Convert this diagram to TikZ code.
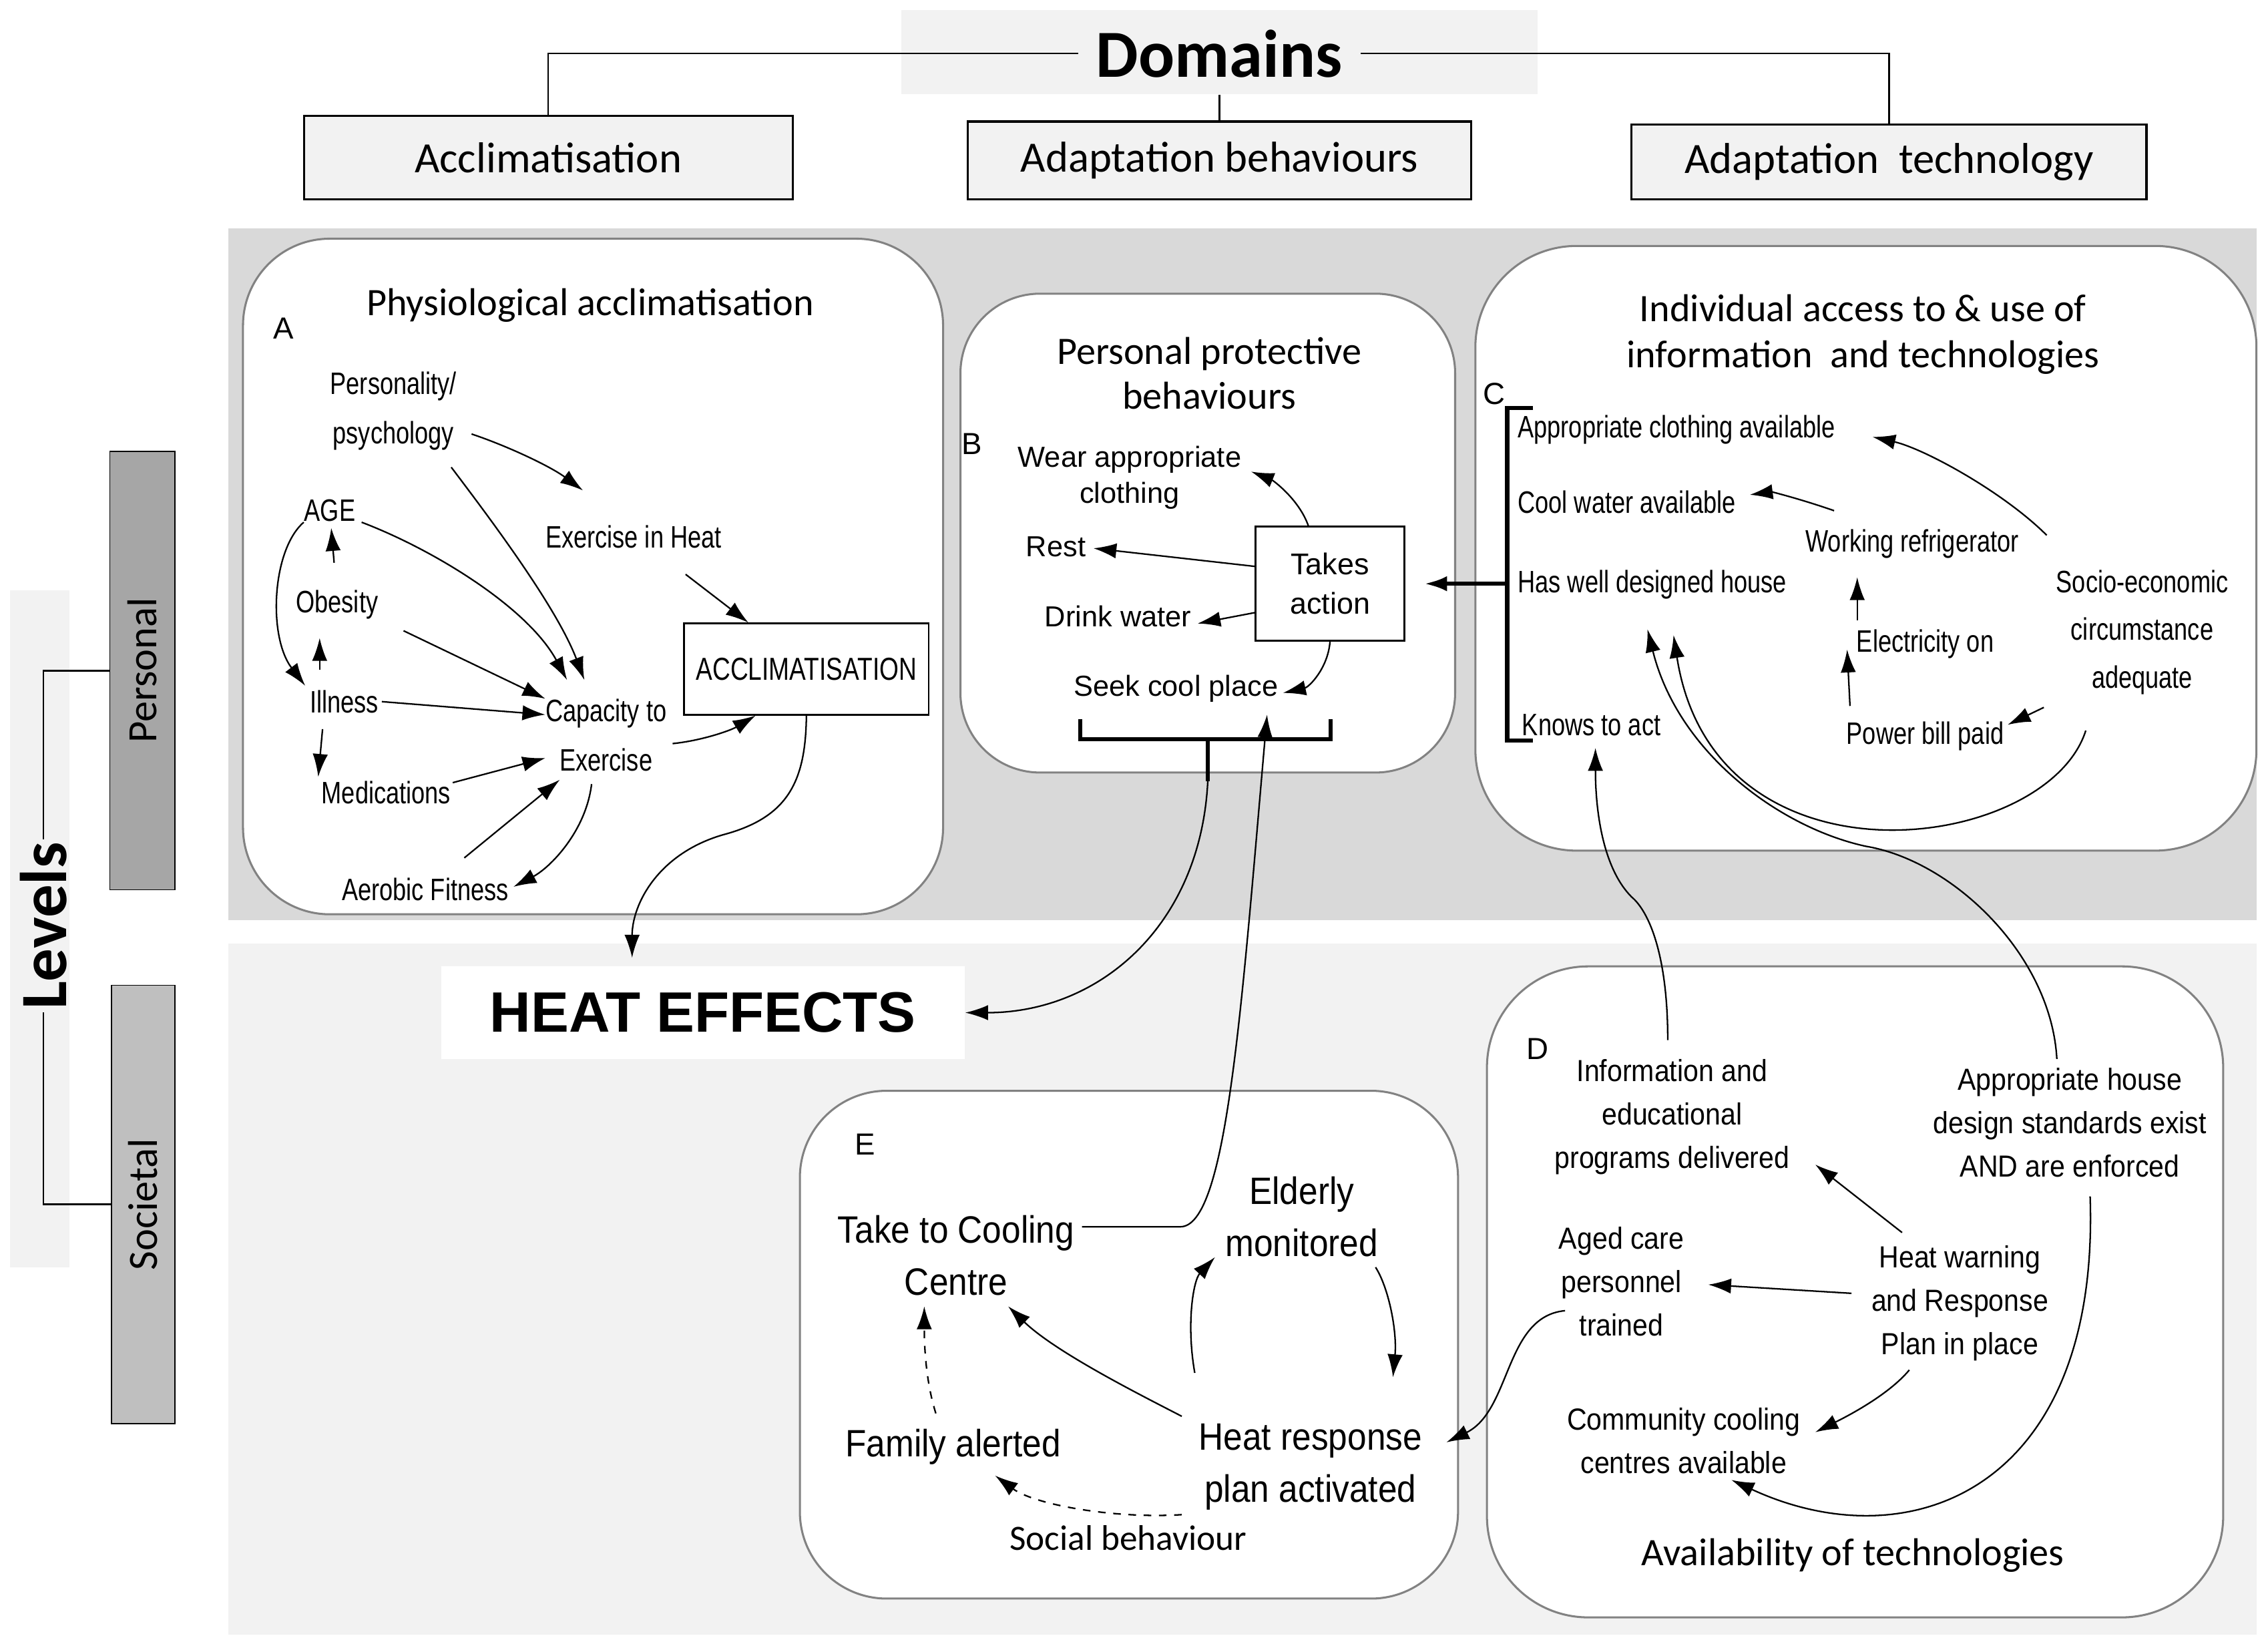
\documentclass[tikz,border=0pt]{standalone}
\usepackage{fontspec}
\setmainfont{Carlito}
\newfontfamily\arialfont{Liberation Sans}
\newfontfamily\narrowfont[FakeStretch=0.78]{Liberation Sans}
\newfontfamily\semifont[FakeStretch=0.9]{Liberation Sans}
\usetikzlibrary{arrows.meta}
\definecolor{bandgray}{RGB}{217,217,217}
\definecolor{paleg}{RGB}{242,242,242}
\definecolor{persgray}{RGB}{166,166,166}
\definecolor{socgray}{RGB}{191,191,191}
\definecolor{edgegray}{RGB}{130,130,130}

\begin{document}
\begin{tikzpicture}[x=0.02cm, y=-0.02cm,
  line/.style={>={Latex[length=9pt,width=6pt]}, line width=0.6pt},
  hdr/.style={draw, fill=paleg, line width=0.8pt, font=\fontsize{17}{20}\selectfont},
  area/.style={draw=edgegray, fill=white, line width=0.8pt},
  ttl/.style={align=center, font=\fontsize{15.3}{17.5}\selectfont},
  tag/.style={font=\arialfont\fontsize{12}{14}\selectfont},
  nar/.style={align=center, inner sep=2pt, font=\narrowfont\fontsize{12.2}{19.5}\selectfont},
  blab/.style={align=center, inner sep=2pt, font=\arialfont\fontsize{11.4}{14.2}\selectfont},
  dlab/.style={align=center, inner sep=2pt, font=\semifont\fontsize{12}{17.1}\selectfont},
  elab/.style={align=center, inner sep=2pt, font=\semifont\fontsize{15}{20.5}\selectfont}]
\useasboundingbox (0,0) rectangle (1568,1136);
\fill[white] (0,0) rectangle (1568,1136);

\node (dombg) at (843,36) [fill=paleg, minimum width=8.8cm, minimum height=1.16cm] {};
\node (dom) at (843,37) [inner xsep=7pt, inner ysep=0pt, font=\bfseries\fontsize{26.5}{30}\selectfont] {Domains};
\node (acc) at (379,109) [hdr, minimum width=6.76cm, minimum height=1.16cm] {Acclimatisation};
\node (beh) at (843,111) [hdr, minimum width=6.96cm, minimum height=1.08cm] {Adaptation behaviours};
\node (tec) at (1306,112) [hdr, minimum width=7.12cm, minimum height=1.04cm] {Adaptation\ \ technology};
\draw[line width=0.7pt] (dom.west) -| (acc.north);
\draw[line width=0.7pt] (dom.east) -| (tec.north);
\draw[line width=0.7pt] (dombg.south) -- (beh.north);

\fill[bandgray] (158,158) rectangle (1560,636);
\fill[paleg] (158,652) rectangle (1560,1130);
\fill[paleg] (7,408) rectangle (48,876);

\node (lev) at (30,640) [rotate=90, inner sep=1pt, font=\bfseries\fontsize{26}{30}\selectfont] {Levels};
\node (pers) at (98.5,463.5) [rotate=90, draw, fill=persgray, minimum width=6.06cm, minimum height=0.9cm, font=\fontsize{16.4}{20}\selectfont] {Personal};
\node (socl) at (99,832.5) [rotate=90, draw, fill=socgray, minimum width=6.06cm, minimum height=0.88cm, font=\fontsize{16.4}{20}\selectfont] {Societal};
\draw[line width=0.7pt] (lev.east) |- (pers.north);
\draw[line width=0.7pt] (lev.west) |- (socl.north);

\draw[area, rounded corners=1.2cm] (168,165) rectangle (652,632);
\draw[area, rounded corners=1.1cm] (664,203) rectangle (1006,534);
\draw[area, rounded corners=1.4cm] (1020,170) rectangle (1560,588);
\draw[area, rounded corners=1.4cm] (1028,668) rectangle (1537,1118);
\draw[area, rounded corners=1.2cm] (553,754) rectangle (1008,1105);

\node (heat) at (486,700) [fill=white, minimum width=7.24cm, minimum height=1.28cm, font=\arialfont\bfseries\fontsize{22.4}{26}\selectfont] {HEAT EFFECTS};

% A
\node (tagA) at (196,227) [tag] {A};
\node (titA) at (408,211) [ttl] {Physiological acclimatisation};
\node (psy) at (272,284) [nar] {Personality/\\psychology};
\node (age) at (228,353) [nar] {AGE};
\node (obe) at (233,418) [nar] {Obesity};
\node (ill) at (238,485) [nar] {Illness};
\node (med) at (267,548) [nar] {Medications};
\node (aer) at (294,615) [nar] {Aerobic Fitness};
\node (exh) at (438,371) [nar] {Exercise in Heat};
\node (cap) at (419,508) [nar] {Capacity to\\Exercise};
\node (accl) at (557.5,462.5) [draw, line width=0.7pt, minimum width=3.38cm, minimum height=1.26cm, font=\narrowfont\fontsize{12.5}{15}\selectfont] {ACCLIMATISATION};

\draw[->, line] ([shift={(54,16)}]psy.center) .. controls (350,308) and (380,322) .. ([shift={(-35,-32)}]exh.center);
\draw[->, line] ([shift={(40,39)}]psy.center) .. controls (340,360) and (385,420) .. ([shift={(-15,-38)}]cap.center);
\draw[->, line] ([shift={(22,8)}]age.center) .. controls (300,380) and (365,420) .. ([shift={(-27,-38)}]cap.center);
\draw[->, line] ([shift={(46,18)}]obe.center) -- ([shift={(-42,-25)}]cap.center);
\draw[->, line] ([shift={(26,0)}]ill.center) -- ([shift={(-42,-14)}]cap.center);
\draw[->, line] ([shift={(46,-7)}]med.center) -- ([shift={(-42,16)}]cap.center);
\draw[->, line] ([shift={(27,-22)}]aer.center) -- ([shift={(-32,31)}]cap.center);
\draw[->, line] ([shift={(-10,34)}]cap.center) .. controls (405,575) and (380,600) .. ([shift={(61,-2)}]aer.center);
\draw[->, line] ([shift={(46,6)}]cap.center) .. controls (485,512) and (505,505) .. ([shift={(50,0)}]accl.south west);
\draw[->, line] ([shift={(36,26)}]exh.center) -- ([shift={(45,0)}]accl.north west);
\draw[->, line] ([shift={(-2,-29)}]obe.center) -- ([shift={(1,12)}]age.center);
\draw[->, line] ([shift={(-17,-22)}]ill.center) -- ([shift={(-12,23)}]obe.center);
\draw[->, line] ([shift={(-15,19)}]ill.center) -- ([shift={(-47,-11)}]med.center);
\draw[->, line] ([shift={(-18,8)}]age.center) .. controls (188,380) and (185,440) .. ([shift={(-27,-11)}]ill.center);
\draw[->, line] (accl.south) .. controls (557,540) and (545,565) .. (500,577) .. controls (455,590) and (437,625) .. ([shift={(-49,-38)}]heat.center);

% B
\node (tagB) at (672,307) [tag] {B};
\node (titB) at (836,258) [ttl] {Personal protective\\behaviours};
\node (wear) at (781,330) [blab] {Wear appropriate\\clothing};
\node (rest) at (730,378) [blab] {Rest};
\node (drink) at (773,426) [blab] {Drink water};
\node (seek) at (813,476) [blab] {Seek cool place};
\node (take) at (919.5,403.5) [draw, line width=0.7pt, minimum width=2.06cm, minimum height=1.58cm, align=center, font=\arialfont\fontsize{11.8}{15.4}\selectfont] {Takes\\action};

\draw[->, line] ([shift={(-15,0)}]take.north) .. controls (898,345) and (880,332) .. ([shift={(84,-4)}]wear.center);
\draw[->, line] ([shift={(0,-12)}]take.west) -- ([shift={(26,1)}]rest.center);
\draw[->, line] ([shift={(0,20)}]take.west) -- ([shift={(55,5)}]drink.center);
\draw[->, line] (take.south) .. controls (918,462) and (905,475) .. ([shift={(74,3)}]seek.center);

\draw[line width=1.6pt] (747,497) |- (920,511) -- (920,497);
\coordinate (brB) at (835,511);
\coordinate (stemB) at (835,540);
\draw[line width=1.6pt] (brB) -- (stemB);
\draw[->, line] (stemB) .. controls (830,640) and (760,700) .. (heat.east);

% C
\node (tagC) at (1033,272) [tag] {C};
\node (titC) at (1288,231) [ttl, font=\fontsize{15.3}{18.2}\selectfont] {Individual access to \& use of\\information\ \ and technologies};
\node (clo) at (1045.5,297) [nar, anchor=west] {Appropriate clothing available};
\node (wat) at (1045.5,347) [nar, anchor=west] {Cool water available};
\node (hou) at (1045.5,404) [nar, anchor=west] {Has well designed house};
\node (kno) at (1048.5,501) [nar, anchor=west] {Knows to act};
\node (fri) at (1322,376) [nar] {Working refrigerator};
\node (ele) at (1331,445) [nar] {Electricity on};
\node (pow) at (1331,509) [nar] {Power bill paid};
\node (soc) at (1481,437) [nar, font=\narrowfont\fontsize{12.2}{18.8}\selectfont] {Socio-economic\\circumstance\\adequate};

\draw[line width=1.6pt] (1060,282) -| (1042,512) -- (1060,512);
\coordinate (brC) at (1042,403.5);
\draw[->, line, line width=1.6pt] (brC) -- ([shift={(13,0)}]take.east);

\draw[->, line] ([shift={(-66,-67)}]soc.center) .. controls (1385,340) and (1330,310) .. ([shift={(22,5)}]clo.east);
\draw[->, line] ([shift={(-54,-23)}]fri.center) .. controls (1245,345) and (1225,340) .. ([shift={(6,-5)}]wat.east);
\draw[->, line] ([shift={(-47,-16)}]ele.center) -- ([shift={(-38,23)}]fri.center);
\draw[->, line] ([shift={(-52,-21)}]pow.center) -- ([shift={(-54,4)}]ele.center);
\draw[->, line] ([shift={(-68,52)}]soc.center) -- ([shift={(57,-8)}]pow.center);
\draw[->, line] ([shift={(-39,68)}]soc.center) .. controls (1415,590) and (1185,620) .. ([shift={(111.5,35)}]hou.west);

% D
\node (tagD) at (1063,725) [tag] {D};
\node (info) at (1156,772) [dlab] {Information and\\educational\\programs delivered};
\node (stds) at (1431,776) [dlab] {Appropriate house\\design standards exist\\AND are enforced};
\node (aged) at (1121,886) [dlab] {Aged care\\personnel\\trained};
\node (hwr) at (1355,901) [dlab] {Heat warning\\and Response\\Plan in place};
\node (comm) at (1164,996) [dlab] {Community cooling\\centres available};
\node (titD) at (1281,1075) [ttl] {Availability of technologies};

\draw[->, line] ([shift={(-9,-44)}]stds.center) .. controls (1418,660) and (1350,595) .. (1290,585) .. controls (1230,572) and (1160,520) .. ([shift={(93.5,31)}]hou.west);
\draw[->, line] ([shift={(-3,-53)}]info.center) .. controls (1153,660) and (1140,630) .. (1128,620) .. controls (1108,600) and (1103,560) .. ([shift={(54.5,16)}]kno.west);
\draw[->, line] ([shift={(-40,-49)}]hwr.center) -- ([shift={(99,33)}]info.center);
\draw[->, line] ([shift={(-75,-7)}]hwr.center) -- ([shift={(60,2)}]aged.center);
\draw[->, line] ([shift={(-35,46)}]hwr.center) .. controls (1305,965) and (1275,980) .. ([shift={(91,-6)}]comm.center);
\draw[->, line] ([shift={(14,51)}]stds.center) .. controls (1452,1030) and (1320,1080) .. ([shift={(33,27)}]comm.center);

% E
\node (tagE) at (598,791) [tag] {E};
\node (cool) at (661,868) [elab] {Take to Cooling\\Centre};
\node (eld) at (900,841) [elab] {Elderly\\monitored};
\node (fam) at (659,1000) [elab] {Family alerted};
\node (hresp) at (906,1014) [elab] {Heat response\\plan activated};
\node (socb) at (780,1063) [font=\fontsize{14}{16}\selectfont] {Social behaviour};

\draw[->, line] ([shift={(-39,20)}]aged.center) .. controls (1040,910) and (1045,975) .. ([shift={(94,-17)}]hresp.center);
\draw[->, line] ([shift={(87,-20)}]cool.center) -- (816,848) .. controls (848,848) and (858,700) .. ([shift={(63,18)}]seek.center);
\draw[->, line] ([shift={(-89,-35)}]hresp.center) .. controls (790,965) and (730,935) .. ([shift={(36,35)}]cool.center);
\draw[->, line] ([shift={(-80,-65)}]hresp.center) .. controls (820,915) and (825,885) .. ([shift={(-60,28)}]eld.center);
\draw[->, line] ([shift={(51,35)}]eld.center) .. controls (960,890) and (966,920) .. ([shift={(57,-62)}]hresp.center);
\draw[->, line, dashed] ([shift={(-12,-23)}]fam.center) .. controls (640,955) and (639,930) .. ([shift={(-22,35)}]cool.center);
\draw[->, line, dashed] ([shift={(-89,33)}]hresp.center) .. controls (770,1050) and (715,1040) .. ([shift={(29,20)}]fam.center);

\end{tikzpicture}
\end{document}
